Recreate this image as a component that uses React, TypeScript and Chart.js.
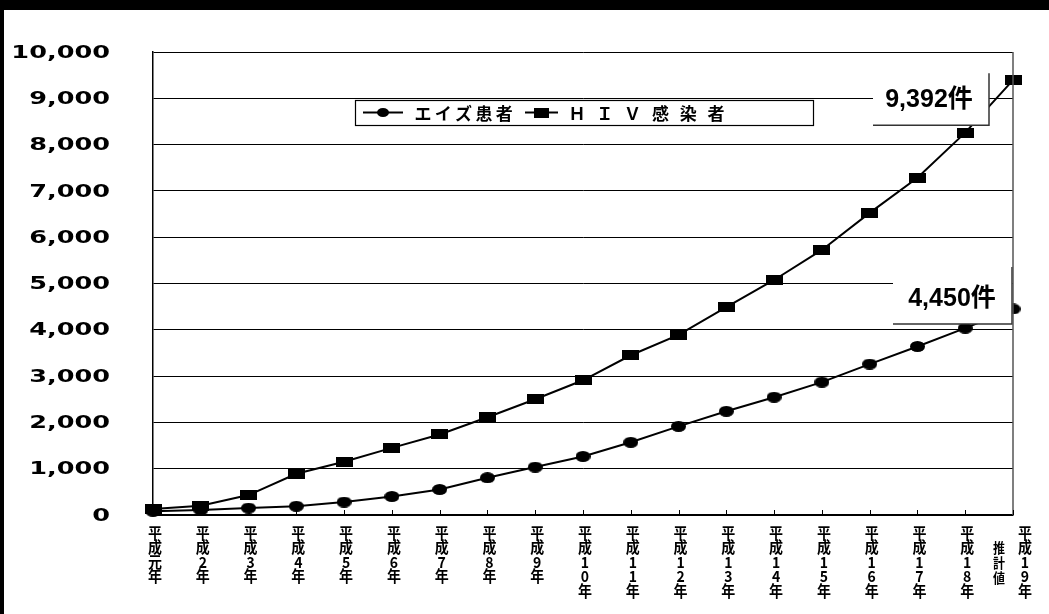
import React, { useEffect, useRef } from "react";
import { Chart, registerables } from "chart.js";

Chart.register(...registerables);

// 年別累積報告数（件）
const years = [
  "平成元年", "平成2年", "平成3年", "平成4年", "平成5年", "平成6年", "平成7年",
  "平成8年", "平成9年", "平成10年", "平成11年", "平成12年", "平成13年",
  "平成14年", "平成15年", "平成16年", "平成17年", "平成18年", "平成19年",
];
const estimateNote = "推計値";
const seriesNames = ["エイズ患者", "ＨＩＶ感染者"];
const aidsPatients = [
  80, 110, 150, 190, 280, 400, 552, 805, 1035, 1265, 1570, 1915, 2240, 2545,
  2870, 3260, 3640, 4036, 4450,
];
const hivInfected = [
  130, 200, 430, 890, 1150, 1450, 1740, 2110, 2500, 2910, 3450, 3890, 4490,
  5076, 5725, 6525, 7285, 8258, 9392,
];
const yMin = 0;
const yMax = 10000;
const yStep = 1000;

const W = 1049;
const H = 614;

function makeMarker(kind: "ellipse" | "rect", w: number, h: number) {
  const c = document.createElement("canvas");
  c.width = w;
  c.height = h;
  const g = c.getContext("2d")!;
  g.fillStyle = "#000";
  if (kind === "ellipse") {
    g.beginPath();
    g.ellipse(w / 2, h / 2, w / 2, h / 2, 0, 0, Math.PI * 2);
    g.fill();
  } else {
    g.fillRect(0, 0, w, h);
  }
  return c;
}

const fmt = (v: number) => v.toLocaleString("en-US");

export default function App() {
  const ref = useRef<HTMLCanvasElement | null>(null);

  useEffect(() => {
    const canvas = ref.current;
    if (!canvas) return;

    const dotMarker = makeMarker("ellipse", 15, 11);
    const rectMarker = makeMarker("rect", 17, 10);
    const dotSmall = makeMarker("ellipse", 12, 9);
    const rectSmall = makeMarker("rect", 15, 10);

    const decor = {
      id: "decor",
      beforeDraw(chart: any) {
        const ctx = chart.ctx;
        ctx.save();
        ctx.fillStyle = "#fff";
        ctx.fillRect(0, 0, W, H);
        ctx.fillStyle = "#000";
        ctx.fillRect(0, 0, W, 10);
        ctx.fillRect(0, 0, 4, H);
        ctx.restore();
      },
      afterDatasetsDraw(chart: any) {
        const ctx = chart.ctx;
        const hivMeta = chart.getDatasetMeta(1);
        const aidsMeta = chart.getDatasetMeta(0);
        const hp = hivMeta.data[hivMeta.data.length - 1];
        const ap = aidsMeta.data[aidsMeta.data.length - 1];
        const boxes = [
          {
            l: hp.x - 140, r: hp.x - 24, t: hp.y - 7, b: hp.y + 45,
            tx: hp.x - 84, ty: hp.y + 20,
            text: fmt(hivInfected[hivInfected.length - 1]) + "件",
          },
          {
            l: ap.x - 120, r: ap.x - 1, t: ap.y - 42, b: ap.y + 15,
            tx: ap.x - 61, ty: ap.y - 10,
            text: fmt(aidsPatients[aidsPatients.length - 1]) + "件",
          },
        ];
        ctx.save();
        for (const bx of boxes) {
          ctx.fillStyle = "#fff";
          ctx.fillRect(bx.l, bx.t, bx.r - bx.l, bx.b - bx.t);
          ctx.strokeStyle = "#333";
          ctx.lineWidth = 1.5;
          ctx.beginPath();
          ctx.moveTo(bx.l, bx.b);
          ctx.lineTo(bx.r, bx.b);
          ctx.lineTo(bx.r, bx.t);
          ctx.stroke();
          ctx.fillStyle = "#000";
          ctx.font = 'bold 25px "Liberation Sans", "Noto Sans CJK JP", sans-serif';
          ctx.textAlign = "center";
          ctx.textBaseline = "middle";
          ctx.fillText(bx.text, bx.tx, bx.ty);
        }
        ctx.restore();
      },
      afterDraw(chart: any) {
        const ctx = chart.ctx;
        const ca = chart.chartArea;
        const xs = chart.scales.x;
        const ys = chart.scales.y;
        ctx.save();

        // right frame line
        ctx.strokeStyle = "#555";
        ctx.lineWidth = 1.5;
        ctx.beginPath();
        ctx.moveTo(ca.right, ca.top);
        ctx.lineTo(ca.right, ca.bottom);
        ctx.stroke();

        // inner tick marks on the category axis
        ctx.strokeStyle = "#000";
        ctx.lineWidth = 1;
        for (let i = 1; i < years.length; i++) {
          const x = Math.round(xs.getPixelForTick(i)) + 0.5;
          ctx.beginPath();
          ctx.moveTo(x, ca.bottom);
          ctx.lineTo(x, ca.bottom - 5);
          ctx.stroke();
        }

        // value axis labels (wide bold face)
        ctx.fillStyle = "#000";
        ctx.font = 'bold 18px "DejaVu Sans", sans-serif';
        ctx.textAlign = "right";
        ctx.textBaseline = "middle";
        for (const t of ys.ticks) {
          const y = ys.getPixelForValue(t.value);
          ctx.save();
          ctx.translate(110, y + 1);
          ctx.scale(1.42, 1);
          ctx.fillText(fmt(t.value), 0, 0);
          ctx.restore();
        }

        // category labels, written vertically one character per row
        const drawColumn = (chars: string[], x: number, y0: number, pitch: number, font: string) => {
          ctx.font = font;
          ctx.textAlign = "center";
          ctx.textBaseline = "middle";
          chars.forEach((ch, k) => {
            ctx.save();
            ctx.translate(x, y0 + k * pitch);
            ctx.scale(1, 1.1);
            ctx.fillText(ch, 0, 0);
            ctx.restore();
          });
        };
        const labelFont = 'bold 14px "Noto Sans CJK JP", sans-serif';
        years.forEach((label, i) => {
          const px = xs.getPixelForTick(i);
          const chars = Array.from(label);
          if (i === years.length - 1) {
            drawColumn(Array.from(estimateNote), px - 14, ca.bottom + 33, 15, 'bold 12px "Noto Sans CJK JP", sans-serif');
            drawColumn(chars, px + 12, ca.bottom + 18, 14.5, labelFont);
          } else {
            drawColumn(chars, px + 2, ca.bottom + 18, 14.5, labelFont);
          }
        });

        // legend box
        const lx = ca.left + 202;
        const ly = ca.top + 48;
        const lw = 458;
        const lh = 25;
        ctx.fillStyle = "#fff";
        ctx.fillRect(lx, ly, lw, lh);
        ctx.strokeStyle = "#000";
        ctx.lineWidth = 1.2;
        ctx.strokeRect(lx + 0.5, ly + 0.5, lw, lh);
        const cy = ly + lh / 2;
        const items = [
          { name: seriesNames[0], x0: lx + 8, x1: lx + 48, marker: dotSmall, tx: lx + 68, pitch: 20.3 },
          { name: seriesNames[1], x0: lx + 170, x1: lx + 203, marker: rectSmall, tx: lx + 222, pitch: 27.8 },
        ];
        ctx.fillStyle = "#000";
        for (const it of items) {
          ctx.lineWidth = 2;
          ctx.beginPath();
          ctx.moveTo(it.x0, cy);
          ctx.lineTo(it.x1, cy);
          ctx.stroke();
          const mx = (it.x0 + it.x1) / 2;
          ctx.drawImage(it.marker, mx - it.marker.width / 2, cy - it.marker.height / 2);
          ctx.font = 'bold 17px "Noto Sans CJK JP", sans-serif';
          ctx.textAlign = "center";
          ctx.textBaseline = "middle";
          Array.from(it.name).forEach((ch, k) => {
            ctx.fillText(ch, it.tx + k * it.pitch, cy + 1);
          });
        }
        ctx.restore();
      },
    };

    const chart = new Chart(canvas, {
      type: "line",
      data: {
        labels: years,
        datasets: [
          {
            label: seriesNames[0],
            data: aidsPatients,
            borderColor: "#000",
            borderWidth: 2,
            pointStyle: dotMarker as any,
            pointRadius: 7,
            tension: 0,
            clip: false as any,
          },
          {
            label: seriesNames[1],
            data: hivInfected,
            borderColor: "#000",
            borderWidth: 2,
            pointStyle: rectMarker as any,
            pointRadius: 7,
            tension: 0,
            clip: false as any,
          },
        ],
      },
      options: {
        responsive: false,
        animation: false,
        events: [],
        layout: { padding: { top: 52, right: 36, left: 0, bottom: 0 } },
        plugins: {
          legend: { display: false },
          tooltip: { enabled: false },
        },
        scales: {
          x: {
            type: "category",
            offset: false,
            grid: { display: false },
            border: { display: true, color: "#000", width: 1.5 },
            ticks: { display: false },
            afterFit: (s: any) => {
              s.height = 99;
            },
          },
          y: {
            min: yMin,
            max: yMax,
            ticks: { display: false, stepSize: yStep },
            grid: { color: "#000", lineWidth: 1, drawTicks: false },
            border: { display: true, color: "#000", width: 1.5 },
            afterFit: (s: any) => {
              s.width = 153;
            },
          },
        },
      },
      plugins: [decor],
    });

    return () => chart.destroy();
  }, []);

  return (
    <div style={{ position: "fixed", left: 0, top: 0, width: W, height: H, background: "#fff" }}>
      <canvas ref={ref} width={W} height={H} style={{ display: "block", width: W, height: H }} />
    </div>
  );
}
